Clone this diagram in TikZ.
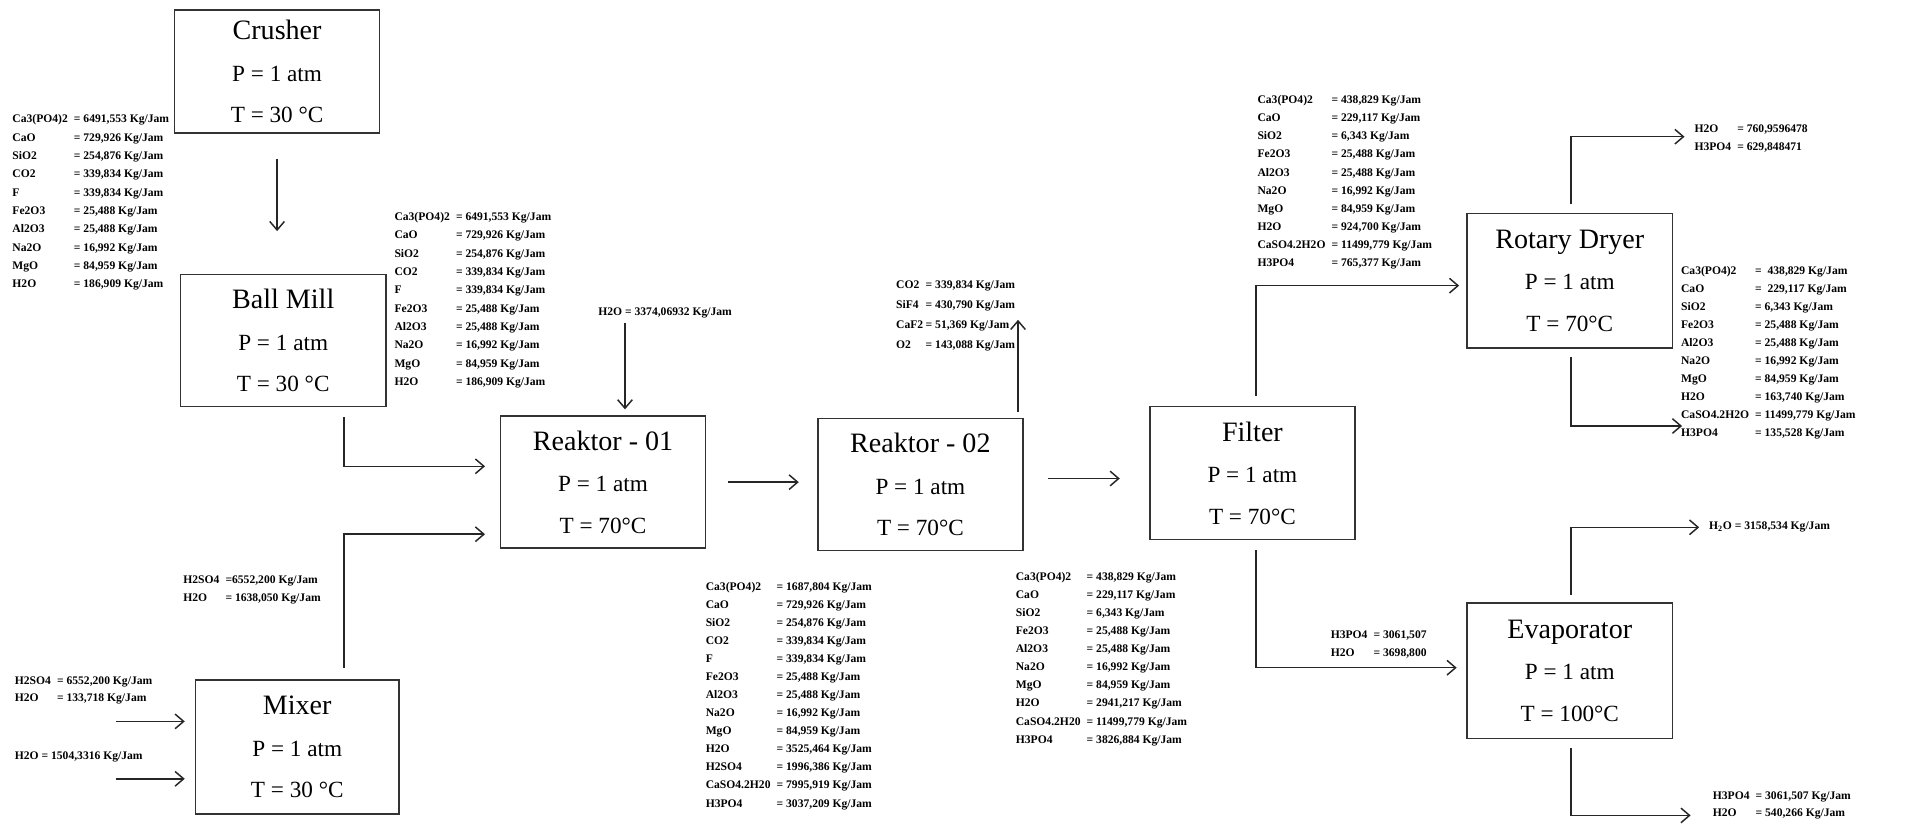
\documentclass[tikz,border=0pt]{standalone}
\usepackage{fontspec}
\setmainfont{Liberation Serif}
\usetikzlibrary{arrows.meta,calc}
\tikzset{
 unit/.style={draw=black!80, line width=1.3pt, minimum width=168pt, minimum height=108pt, align=center, inner sep=0pt, font=\fontsize{19}{34}\selectfont},
 lst/.style={anchor=north west, inner sep=0pt, font=\fontsize{9.5}{15}\selectfont\bfseries},
 one/.style={anchor=west, inner sep=0pt, font=\fontsize{9.5}{15}\selectfont\bfseries},
 flow/.style={draw=black!85, line width=1.2pt, -{Straight Barb[length=7pt,width=12pt]}},
}
\newcommand\ttl[1]{{\fontsize{23}{34}\selectfont #1}}
\newcommand\tb[1]{\begin{tabular}{@{}l@{\hspace{5pt}}l@{}}#1\end{tabular}}
\newcommand\tbn[1]{\begin{tabular}{@{}l@{\hspace{2pt}}l@{}}#1\end{tabular}}
\begin{document}
\begin{tikzpicture}[x=1pt,y=-1pt]
\useasboundingbox[fill=white] (0,0) rectangle (1568,676);
% units
\node[unit, minimum height=101pt] (crusher) at (227,58.5) {\ttl{Crusher}\\P = 1 atm\\T = 30 °C};
\node[unit] (bm) at (232,279) {\ttl{Ball Mill}\\P = 1 atm\\T = 30 °C};
\node[unit] (r1) at (494,395) {\ttl{Reaktor - 01}\\P = 1 atm\\T = 70°C};
\node[unit, minimum width=167pt, minimum height=110pt] (mixer) at (243.5,612) {\ttl{Mixer}\\P = 1 atm\\T = 30 °C};
\node[unit] (r2) at (754,397) {\ttl{Reaktor - 02}\\P = 1 atm\\T = 70°C};
\node[unit, minimum height=109pt] (filter) at (1026,387.5) {\ttl{Filter}\\P = 1 atm\\T = 70°C};
\node[unit, minimum height=110pt] (rotary) at (1286,230) {\ttl{Rotary Dryer}\\P = 1 atm\\T = 70°C};
\node[unit, minimum height=111pt] (evap) at (1286,549.5) {\ttl{Evaporator}\\P = 1 atm\\T = 100°C};
% free ends
\coordinate (in1) at (95,591);
\coordinate (in2) at (95,638);
\coordinate (h2o) at (512,265);
\coordinate (gas) at (834,262);
\coordinate (dryv) at (1380,112);
\coordinate (dryl) at (1378,349);
\coordinate (evv) at (1392,432);
\coordinate (evl) at (1385,668);
\coordinate (fw) at ($(filter.west)+(0,4.5)$);
% connectors
\draw[flow, shorten <=21pt, shorten >=35pt] (crusher.south) -- (crusher.south |- bm.north);
\draw[flow, shorten >=12pt] ($(bm.south east)+(-35,8)$) |- ($(r1.west)+(0,-13)$);
\draw[flow, shorten >=12pt] ($(mixer.north east)+(-46,-9)$) |- ($(r1.south west)+(0,-12)$);
\draw[flow, shorten >=8pt] (in1) -- (in1 -| mixer.west);
\draw[flow, shorten >=8pt] (in2) -- (in2 -| mixer.west);
\draw[flow, shorten >=5pt] (h2o) -- (h2o |- r1.north);
\draw[flow, shorten <=18pt, shorten >=15pt] (r1.east) -- (r1.east -| r2.west);
\draw[flow, shorten <=5pt] (gas |- r2.north) -- (gas);
\draw[flow, shorten <=20pt, shorten >=24pt] (fw -| r2.east) -- (fw);
\draw[flow, shorten >=6pt] ($(filter.north)+(3,-8)$) |- ($(rotary.west)+(0,4)$);
\draw[flow, shorten >=8pt] ($(filter.south)+(3,8)$) |- ($(evap.west)+(0,-2.5)$);
\draw[flow] ($(rotary.north)+(1,-7)$) |- (dryv);
\draw[flow] ($(rotary.south)+(1,7)$) |- (dryl);
\draw[flow] ($(evap.north)+(1,-6)$) |- (evv);
\draw[flow] ($(evap.south)+(1,7)$) |- (evl);
% stream labels
\node[lst] (s1) at (10,90) {\tb{Ca3(PO4)2 & = 6491,553 Kg/Jam\\ CaO & = 729,926 Kg/Jam\\ SiO2 & = 254,876 Kg/Jam\\ CO2 & = 339,834 Kg/Jam\\ F & = 339,834 Kg/Jam\\ Fe2O3 & = 25,488 Kg/Jam\\ Al2O3 & = 25,488 Kg/Jam\\ Na2O & = 16,992 Kg/Jam\\ MgO & = 84,959 Kg/Jam\\ H2O & = 186,909 Kg/Jam}};
\node[lst] (s2) at (323,170) {\tb{Ca3(PO4)2 & = 6491,553 Kg/Jam\\ CaO & = 729,926 Kg/Jam\\ SiO2 & = 254,876 Kg/Jam\\ CO2 & = 339,834 Kg/Jam\\ F & = 339,834 Kg/Jam\\ Fe2O3 & = 25,488 Kg/Jam\\ Al2O3 & = 25,488 Kg/Jam\\ Na2O & = 16,992 Kg/Jam\\ MgO & = 84,959 Kg/Jam\\ H2O & = 186,909 Kg/Jam}};
\node[one] (s3) at (490,256) {H2O = 3374,06932 Kg/Jam};
\node[lst] (s4) at (150,467) {\tb{H2SO4 & =6552,200 Kg/Jam\\ H2O & = 1638,050 Kg/Jam}};
\node[lst, font=\fontsize{9.5}{14}\selectfont\bfseries] (s5) at (12,551) {\tb{H2SO4 & = 6552,200 Kg/Jam\\ H2O & = 133,718 Kg/Jam}};
\node[one] (s6) at (12,620) {H2O = 1504,3316 Kg/Jam};
\node[lst, font=\fontsize{9.5}{14.8}\selectfont\bfseries] (s7) at (578,473) {\tb{Ca3(PO4)2 & = 1687,804 Kg/Jam\\ CaO & = 729,926 Kg/Jam\\ SiO2 & = 254,876 Kg/Jam\\ CO2 & = 339,834 Kg/Jam\\ F & = 339,834 Kg/Jam\\ Fe2O3 & = 25,488 Kg/Jam\\ Al2O3 & = 25,488 Kg/Jam\\ Na2O & = 16,992 Kg/Jam\\ MgO & = 84,959 Kg/Jam\\ H2O & = 3525,464 Kg/Jam\\ H2SO4 & = 1996,386 Kg/Jam\\ CaSO4.2H20 & = 7995,919 Kg/Jam\\ H3PO4 & = 3037,209 Kg/Jam}};
\node[lst, font=\fontsize{9.5}{16.3}\selectfont\bfseries] (s8) at (734,225) {\tbn{CO2 & = 339,834 Kg/Jam\\ SiF4 & = 430,790 Kg/Jam\\ CaF2 & = 51,369 Kg/Jam\\ O2 & = 143,088 Kg/Jam}};
\node[lst, font=\fontsize{9.5}{14.8}\selectfont\bfseries] (s9) at (832,465) {\tb{Ca3(PO4)2 & = 438,829 Kg/Jam\\ CaO & = 229,117 Kg/Jam\\ SiO2 & = 6,343 Kg/Jam\\ Fe2O3 & = 25,488 Kg/Jam\\ Al2O3 & = 25,488 Kg/Jam\\ Na2O & = 16,992 Kg/Jam\\ MgO & = 84,959 Kg/Jam\\ H2O & = 2941,217 Kg/Jam\\ CaSO4.2H20 & = 11499,779 Kg/Jam\\ H3PO4 & = 3826,884 Kg/Jam}};
\node[lst, font=\fontsize{9.5}{14.9}\selectfont\bfseries] (s10) at (1030,74) {\tb{Ca3(PO4)2 & = 438,829 Kg/Jam\\ CaO & = 229,117 Kg/Jam\\ SiO2 & = 6,343 Kg/Jam\\ Fe2O3 & = 25,488 Kg/Jam\\ Al2O3 & = 25,488 Kg/Jam\\ Na2O & = 16,992 Kg/Jam\\ MgO & = 84,959 Kg/Jam\\ H2O & = 924,700 Kg/Jam\\ CaSO4.2H2O & = 11499,779 Kg/Jam\\ H3PO4 & = 765,377 Kg/Jam}};
\node[lst] (s11) at (1388,98) {\tb{H2O & = 760,9596478\\ H3PO4 & = 629,848471}};
\node[lst, font=\fontsize{9.5}{14.8}\selectfont\bfseries] (s12) at (1377,214) {\tb{Ca3(PO4)2 & = \ 438,829 Kg/Jam\\ CaO & = \ 229,117 Kg/Jam\\ SiO2 & = 6,343 Kg/Jam\\ Fe2O3 & = 25,488 Kg/Jam\\ Al2O3 & = 25,488 Kg/Jam\\ Na2O & = 16,992 Kg/Jam\\ MgO & = 84,959 Kg/Jam\\ H2O & = 163,740 Kg/Jam\\ CaSO4.2H2O & = 11499,779 Kg/Jam\\ H3PO4 & = 135,528 Kg/Jam}};
\node[lst] (s13) at (1090,512) {\tb{H3PO4 & = 3061,507\\ H2O & = 3698,800}};
\node[one] (s14) at (1400,432) {H\textsubscript{2}O = 3158,534 Kg/Jam};
\node[lst, font=\fontsize{9.5}{14}\selectfont\bfseries] (s15) at (1403,645) {\tb{H3PO4 & = 3061,507 Kg/Jam\\ H2O & = 540,266 Kg/Jam}};
\end{tikzpicture}
\end{document}
